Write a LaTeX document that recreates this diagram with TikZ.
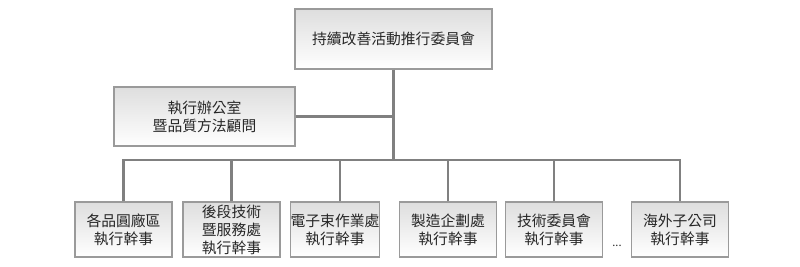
\documentclass[tikz,border=0pt]{standalone}
\usepackage{fontspec}
\usepackage{tikz}
\usepackage{xcolor}
\usetikzlibrary{positioning}
\newfontfamily\cjk{Noto Sans CJK TC}
\definecolor{Box_Line}{HTML}{9A9A9A}
\definecolor{Tree_Line}{HTML}{808080}
\definecolor{Box_Text}{HTML}{262626}

\begin{document}
\begin{tikzpicture}[x=1pt, y=-1pt,
    unitbox/.style={draw=Box_Line, line width=1.3pt, top color=black!13, bottom color=white,
        text=Box_Text, align=center, font=\cjk\fontsize{14.8}{18}\selectfont,
        minimum width=97pt, minimum height=55pt, inner sep=0pt},
    treeline/.style={draw=Tree_Line, line width=2.2pt}]
    \useasboundingbox (0,0) rectangle (800,267);

    % Committee on top
    \node[unitbox, minimum width=197pt, minimum height=60pt] (committee) at (393.5,39) {持續改善活動推行委員會};

    % Executive office
    \node[unitbox, minimum width=181pt, minimum height=59pt] (office) at (204.5,116.5) {執行辦公室\\暨品質方法顧問};

    % Executive secretaries
    \node[unitbox] (fab)     at (123.5,229.5) {各品圓廠區\\執行幹事};
    \node[unitbox] (backend) at (231.5,229.5) {後段技術\\暨服務處\\執行幹事};
    \node[unitbox, minimum width=86pt] (ebeam) at (335,229.5) {電子束作業處\\執行幹事};
    \node[unitbox] (planning) at (448,229.5) {製造企劃處\\執行幹事};
    \node[unitbox] (techcom)  at (554,229.5) {技術委員會\\執行幹事};
    \node[unitbox] (overseas) at (680,229.5) {海外子公司\\執行幹事};
    \node[text=Box_Text, font=\cjk\fontsize{11}{12}\selectfont] (more) at (617,246) {...};

    % Connectors
    \coordinate (officejoin) at (committee.south |- office.east);
    \coordinate (bus) at (committee.south |- 0,160);
    \draw[treeline] (committee.south) -- (bus);
    \draw[treeline] (office.east) -- (officejoin);
    \draw[treeline] (fab.north) |- (bus) -| (overseas.north);
    \foreach \unit/\shift in {backend/0, ebeam/5, planning/0, techcom/0}
        \draw[treeline] ([xshift=\shift pt]\unit.north) -- ([xshift=\shift pt]\unit.north |- bus);

\end{tikzpicture}
\end{document}
